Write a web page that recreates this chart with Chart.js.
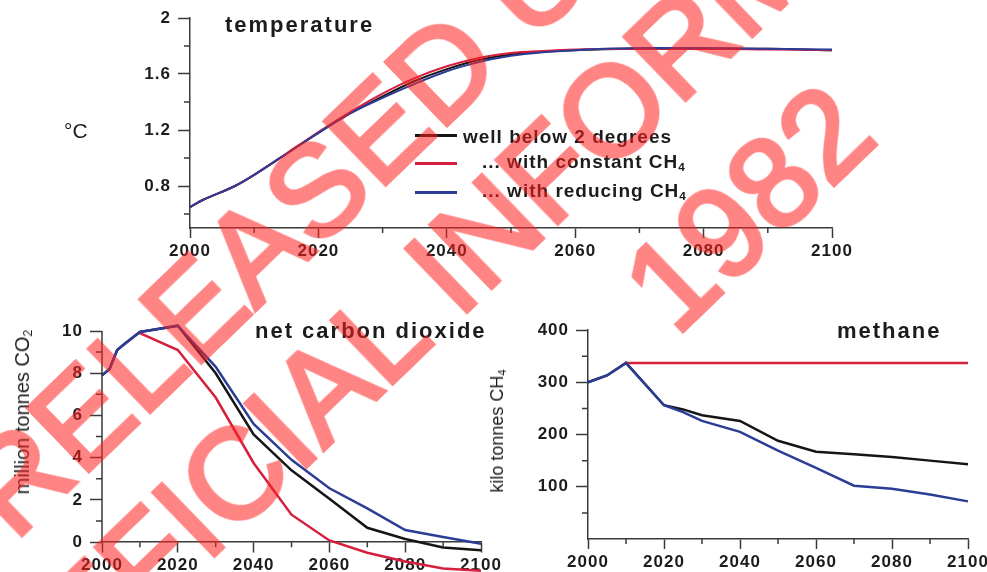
<!DOCTYPE html>
<html lang="en">
<head>
<meta charset="UTF-8">
<title>Temperature, net carbon dioxide and methane</title>
<script src="https://cdn.jsdelivr.net/npm/chart.js"></script>
<style>
  body {
    margin: 0;
    width: 987px;
    height: 572px;
    position: relative;
    overflow: hidden;
    background: #fff;
    font-family: "Liberation Sans", Arial, sans-serif;
    color: #1c1c1c;
  }
  canvas { position: absolute; }
  .txt { position: absolute; white-space: nowrap; line-height: 1; }
  .title { font-weight: bold; font-size: 22px; letter-spacing: 2px; }
  .ylab { font-size: 20px; transform: translate(-50%, -50%) rotate(-90deg); }
  .legend { font-weight: bold; font-size: 19px; letter-spacing: 1px; }
  .swatch { position: absolute; width: 42px; height: 2.5px; }
  sub { font-size: 0.62em; vertical-align: -0.28em; line-height: 0; letter-spacing: 0; }
  #stamp {
    position: absolute; left: 676px; top: 338px;
    transform: rotate(-44deg); transform-origin: 0 0;
    pointer-events: none;
    opacity: 0.55;
  }
  #stamp div {
    position: absolute; white-space: nowrap; line-height: 1;
    font-size: 128px; color: #ff1e1e;
    -webkit-text-stroke: 4px #ff1e1e;
  }
</style>
</head>
<body>

<canvas id="tempChart" width="870" height="260" style="left:0;top:0"></canvas>
<canvas id="co2Chart" width="530" height="291" style="left:0;top:300px"></canvas>
<canvas id="ch4Chart" width="520" height="272" style="left:500px;top:300px"></canvas>

<!-- titles and axis labels -->
<div class="txt title" style="left:225px;top:14px">temperature</div>
<div class="txt title" style="left:255px;top:320px">net carbon dioxide</div>
<div class="txt title" style="left:837px;top:320px">methane</div>
<div class="txt" style="left:64px;top:120px;font-size:21px">°C</div>
<div class="txt ylab" style="left:22px;top:412px">million tonnes CO<sub>2</sub></div>
<div class="txt ylab" style="left:497px;top:431px;font-size:18px">kilo tonnes CH<sub>4</sub></div>

<!-- legend -->
<div class="swatch" style="left:415px;top:134px;background:#151515"></div>
<div class="swatch" style="left:415px;top:162px;background:#d61f3c"></div>
<div class="swatch" style="left:415px;top:191px;background:#2b3d96"></div>
<div class="txt legend" style="left:463px;top:127px">well below 2 degrees</div>
<div class="txt legend" style="left:482px;top:152px">... with constant CH<sub>4</sub></div>
<div class="txt legend" style="left:482px;top:181px">... with reducing CH<sub>4</sub></div>

<div id="stamp">
  <div style="left:-618px;top:-420px">RELEASED UNDER THE</div>
  <div style="left:-751px;top:-272px">OFFICIAL INFORMATION ACT</div>
  <div style="left:0;top:-108px">1982</div>
</div>

<script>
// Temperature (degrees C)
const tempYears = [2000, 2002, 2007, 2010, 2015, 2020, 2025, 2030, 2035, 2040, 2045, 2050, 2055, 2060, 2070, 2080, 2090, 2100];
const tempBlack = [0.65, 0.70, 0.80, 0.88, 1.03, 1.18, 1.32, 1.44, 1.55, 1.635, 1.70, 1.74, 1.76, 1.77, 1.78, 1.78, 1.78, 1.77];
const tempRed   = [0.65, 0.70, 0.80, 0.88, 1.03, 1.185, 1.33, 1.46, 1.57, 1.655, 1.715, 1.75, 1.765, 1.775, 1.78, 1.78, 1.775, 1.77];
const tempBlue  = [0.65, 0.70, 0.80, 0.88, 1.03, 1.18, 1.32, 1.43, 1.53, 1.62, 1.685, 1.73, 1.755, 1.77, 1.785, 1.785, 1.78, 1.775];

// Net carbon dioxide (million tonnes CO2)
const co2Years = [2000, 2002, 2004, 2006, 2010, 2020, 2030, 2040, 2050, 2060, 2070, 2080, 2090, 2100];
const co2Black = [7.9, 8.2, 9.1, 9.4, 9.95, 10.25, 8.0, 5.1, 3.4, 2.05, 0.68, 0.15, -0.25, -0.38];
const co2Blue  = [7.9, 8.2, 9.1, 9.4, 9.95, 10.25, 8.3, 5.6, 3.9, 2.55, 1.6, 0.57, 0.24, -0.08];
const co2RedYears = [2010, 2020, 2030, 2040, 2050, 2060, 2070, 2080, 2090, 2100];
const co2Red      = [9.9, 9.1, 6.85, 3.75, 1.3, 0.08, -0.5, -0.92, -1.25, -1.35];

// Methane (kilo tonnes CH4)
const ch4Years = [2000, 2005, 2010, 2020, 2025, 2030, 2040, 2050, 2060, 2070, 2080, 2090, 2100];
const ch4Black = [300, 313, 337, 256, 248, 237, 226, 188, 167, 162, 157, 150, 143];
const ch4Blue  = [300, 313, 337, 256, 243, 226, 205, 169, 136, 102, 96, 85, 72];
const ch4RedYears = [2010, 2100];
const ch4Red      = [337, 337];

// Tick labels
const yearTicks = [2000, 2020, 2040, 2060, 2080, 2100];
const yearMinor = [2010, 2030, 2050, 2070, 2090];
const tempTicks = [0.8, 1.2, 1.6, 2];
const tempMinor = [0.6, 1.0, 1.4, 1.8];
const co2Ticks = [0, 2, 4, 6, 8, 10];
const co2Minor = [1, 3, 5, 7, 9];
const ch4Ticks = [100, 200, 300, 400];
const ch4Minor = [50, 150, 250, 350];

const BLACK = '#151515';
const RED = '#d61f3c';
const BLUE = '#2b3d96';
const AXIS = '#3a3a3a';

function pts(xs, ys) {
  return xs.map((x, i) => ({ x: x, y: ys[i] }));
}

function line(data, color, order, width) {
  return {
    data: data,
    borderColor: color,
    borderWidth: width,
    pointRadius: 0,
    fill: false,
    clip: false,
    order: order
  };
}

// Short minor ticks and an optional y axis line that stops at a given value
const axisExtras = {
  id: 'axisExtras',
  afterDraw(chart, args, opts) {
    const ctx = chart.ctx;
    const area = chart.chartArea;
    const xs = chart.scales.x;
    const ys = chart.scales.y;
    const xLineY = opts.xAt !== undefined ? ys.getPixelForValue(opts.xAt) : area.bottom;
    ctx.save();
    ctx.strokeStyle = AXIS;
    ctx.lineWidth = 1.5;
    ctx.beginPath();
    (opts.xMinor || []).forEach(v => {
      const px = xs.getPixelForValue(v);
      ctx.moveTo(px, xLineY);
      ctx.lineTo(px, xLineY + 5);
    });
    (opts.yMinor || []).forEach(v => {
      const py = ys.getPixelForValue(v);
      ctx.moveTo(area.left - 6, py);
      ctx.lineTo(area.left, py);
    });
    if (opts.yFloor !== undefined) {
      ctx.moveTo(area.left, area.top);
      ctx.lineTo(area.left, ys.getPixelForValue(opts.yFloor));
    }
    ctx.stroke();
    ctx.restore();
  }
};

// Wider letter spacing for the tick labels, as in the scanned figure
const spacing = {
  id: 'spacing',
  beforeDraw(chart) {
    chart.ctx.letterSpacing = '1px';
  }
};

Chart.register(axisExtras, spacing);

const tickFont = { family: '"Liberation Sans", Arial, sans-serif', size: 17, weight: 'bold' };

function xScale(height, extra) {
  return Object.assign({
    type: 'linear',
    min: 2000,
    max: 2100,
    afterBuildTicks: s => { s.ticks = yearTicks.map(v => ({ value: v })); },
    afterFit: s => { s.height = height; },
    grid: { drawOnChartArea: false, tickLength: 10, tickColor: AXIS, tickWidth: 1.5 },
    border: { color: AXIS, width: 1.5 },
    ticks: { color: '#1c1c1c', font: tickFont, padding: 3, maxRotation: 0, callback: v => String(v) }
  }, extra || {});
}

function yScale(width, min, max, ticks, extra) {
  return Object.assign({
    min: min,
    max: max,
    afterBuildTicks: s => { s.ticks = ticks.map(v => ({ value: v })); },
    afterFit: s => { s.width = width; },
    grid: { drawOnChartArea: false, tickLength: 12, tickColor: AXIS, tickWidth: 1.5 },
    border: { color: AXIS, width: 1.5 },
    ticks: { color: '#1c1c1c', font: tickFont, padding: 7, callback: v => String(v) }
  }, extra || {});
}

const baseOptions = {
  responsive: false,
  animation: false,
  events: [],
  plugins: { legend: { display: false }, tooltip: { enabled: false } }
};

// Temperature chart
new Chart(document.getElementById('tempChart'), {
  type: 'line',
  data: {
    datasets: [
      line(pts(tempYears, tempBlack), BLACK, 3, 2),
      line(pts(tempYears, tempRed), RED, 2, 2),
      line(pts(tempYears, tempBlue), BLUE, 1, 2)
    ].map(d => Object.assign(d, { cubicInterpolationMode: 'monotone' }))
  },
  options: Object.assign({}, baseOptions, {
    layout: { padding: { top: 18, right: 38, left: 0, bottom: 0 } },
    scales: {
      x: xScale(32),
      y: yScale(190, 0.5, 2, tempTicks)
    },
    plugins: Object.assign({}, baseOptions.plugins, {
      axisExtras: { xMinor: yearMinor, yMinor: tempMinor }
    })
  })
});

// Net carbon dioxide chart (x axis crosses at zero, negative values hang below it)
new Chart(document.getElementById('co2Chart'), {
  type: 'line',
  data: {
    datasets: [
      line(pts(co2Years, co2Black), BLACK, 3, 2.5),
      line(pts(co2RedYears, co2Red), RED, 2, 2.5),
      line(pts(co2Years, co2Blue), BLUE, 1, 2.5)
    ]
  },
  options: Object.assign({}, baseOptions, {
    layout: { padding: { top: 31, right: 49, left: 0, bottom: 0 } },
    scales: {
      x: xScale(0, { position: { y: 0 } }),
      y: yScale(102, -1.5, 10, co2Ticks, { border: { display: false } })
    },
    plugins: Object.assign({}, baseOptions.plugins, {
      axisExtras: { xMinor: yearMinor, yMinor: co2Minor, xAt: 0, yFloor: 0 }
    })
  })
});

// Methane chart
new Chart(document.getElementById('ch4Chart'), {
  type: 'line',
  data: {
    datasets: [
      line(pts(ch4Years, ch4Black), BLACK, 3, 2.5),
      line(pts(ch4RedYears, ch4Red), RED, 2, 2.5),
      line(pts(ch4Years, ch4Blue), BLUE, 1, 2.5)
    ]
  },
  options: Object.assign({}, baseOptions, {
    layout: { padding: { top: 30, right: 52, left: 0, bottom: 0 } },
    scales: {
      x: xScale(33),
      y: yScale(88, 0, 400, ch4Ticks)
    },
    plugins: Object.assign({}, baseOptions.plugins, {
      axisExtras: { xMinor: yearMinor, yMinor: ch4Minor }
    })
  })
});
</script>
</body>
</html>
